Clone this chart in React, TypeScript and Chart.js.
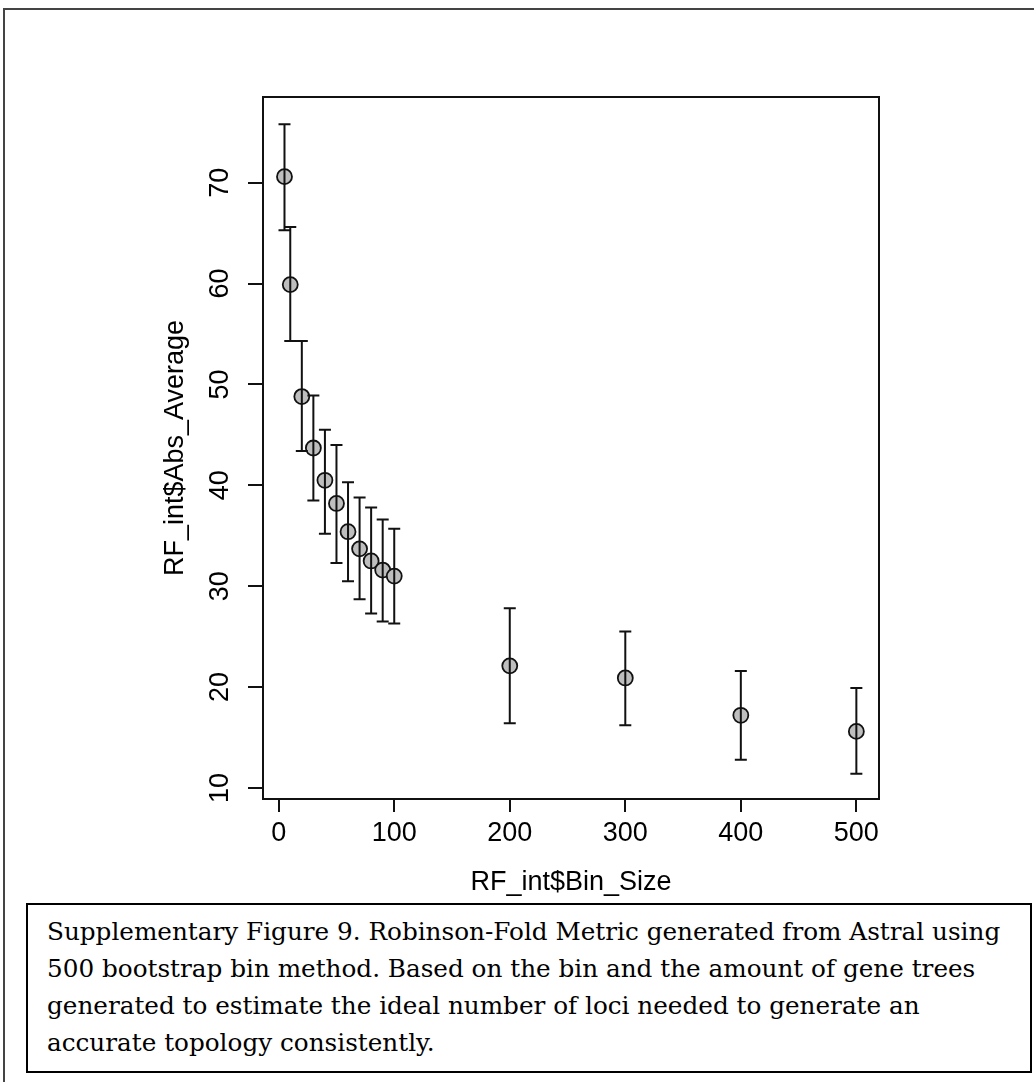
import React, { useEffect, useRef } from "react";
import { Chart, registerables } from "chart.js";

Chart.register(...registerables);

// ---- data ----
const binSize = [5, 10, 20, 30, 40, 50, 60, 70, 80, 90, 100, 200, 300, 400, 500];
const absAverage = [70.6, 59.9, 48.8, 43.7, 40.5, 38.2, 35.4, 33.7, 32.5, 31.6, 31.0, 22.1, 20.9, 17.2, 15.6];
const upperBound = [75.8, 65.6, 54.3, 48.9, 45.5, 44.0, 40.3, 38.8, 37.8, 36.6, 35.7, 27.8, 25.5, 21.6, 19.9];
const lowerBound = [65.3, 54.3, 43.4, 38.5, 35.2, 32.3, 30.5, 28.7, 27.3, 26.5, 26.3, 16.4, 16.2, 12.8, 11.4];
const xTickValues = [0, 100, 200, 300, 400, 500];
const yTickValues = [10, 20, 30, 40, 50, 60, 70];
const xTitle = "RF_int$Bin_Size";
const yTitle = "RF_int$Abs_Average";
const captionLines = [
  "Supplementary Figure 9. Robinson-Fold Metric generated from Astral using",
  "500 bootstrap bin method. Based on the bin and the amount of gene trees",
  "generated to estimate the ideal number of loci needed to generate an",
  "accurate topology consistently.",
];

const INK = "#111111";
const SANS = "'Liberation Sans', Arial, Helvetica, sans-serif";

const errorBarPlugin = {
  id: "errorBars",
  afterDatasetsDraw(chart: any) {
    const { ctx, scales } = chart;
    const x = scales.x;
    const y = scales.y;
    ctx.save();
    ctx.strokeStyle = INK;
    ctx.lineWidth = 2;
    binSize.forEach((b, i) => {
      const px = x.getPixelForValue(b);
      const top = y.getPixelForValue(upperBound[i]);
      const bot = y.getPixelForValue(lowerBound[i]);
      ctx.beginPath();
      ctx.moveTo(px, top);
      ctx.lineTo(px, bot);
      ctx.moveTo(px - 6, top);
      ctx.lineTo(px + 6, top);
      ctx.moveTo(px - 6, bot);
      ctx.lineTo(px + 6, bot);
      ctx.stroke();
    });
    ctx.restore();
  },
};

const boxPlugin = {
  id: "plotBox",
  afterDraw(chart: any) {
    const { ctx, chartArea: a } = chart;
    ctx.save();
    ctx.strokeStyle = INK;
    ctx.lineWidth = 2;
    ctx.strokeRect(a.left, a.top, a.right - a.left, a.bottom - a.top);
    ctx.restore();
  },
};

export default function App() {
  const canvasRef = useRef<HTMLCanvasElement | null>(null);

  useEffect(() => {
    if (!canvasRef.current) return;
    const chart = new Chart(canvasRef.current, {
      type: "scatter",
      data: {
        datasets: [
          {
            label: yTitle,
            data: binSize.map((b, i) => ({ x: b, y: absAverage[i] })),
            pointRadius: 7.5,
            pointHoverRadius: 7.5,
            pointBackgroundColor: "#bebebe",
            pointBorderColor: INK,
            pointBorderWidth: 1.8,
          },
        ],
      },
      options: {
        animation: false,
        responsive: false,
        devicePixelRatio: 1,
        layout: { padding: { left: 150, top: 97, right: 155, bottom: 1 } },
        plugins: {
          legend: { display: false },
          tooltip: { enabled: false },
          title: { display: false },
        },
        scales: {
          x: {
            type: "linear",
            min: -13.6,
            max: 519.6,
            afterBuildTicks: (s: any) => {
              s.ticks = xTickValues.map((v) => ({ value: v }));
            },
            afterFit: (s: any) => {
              s.height = 100;
            },
            grid: {
              display: true,
              drawOnChartArea: false,
              drawTicks: true,
              tickLength: 13,
              color: INK,
              lineWidth: 2,
            },
            border: { display: true, color: INK, width: 2 },
            ticks: {
              color: "#000",
              font: { family: SANS, size: 27 },
              padding: 5,
              maxRotation: 0,
              minRotation: 0,
              autoSkip: false,
            },
            title: {
              display: true,
              text: xTitle,
              color: "#000",
              font: { family: SANS, size: 27 },
              padding: { top: 0, bottom: 0 },
            },
          },
          y: {
            type: "linear",
            min: 8.9,
            max: 78.5,
            afterBuildTicks: (s: any) => {
              s.ticks = yTickValues.map((v) => ({ value: v }));
            },
            afterFit: (s: any) => {
              s.width = 113;
            },
            grid: {
              display: true,
              drawOnChartArea: false,
              drawTicks: true,
              tickLength: 15,
              color: INK,
              lineWidth: 2,
            },
            border: { display: true, color: INK, width: 2 },
            ticks: {
              color: "#000",
              font: { family: SANS, size: 27 },
              padding: 12,
              minRotation: 90,
              maxRotation: 90,
              crossAlign: "center",
              autoSkip: false,
            },
            title: {
              display: true,
              text: yTitle,
              color: "#000",
              font: { family: SANS, size: 27 },
              padding: { top: 9, bottom: 0 },
            },
          },
        },
      },
      plugins: [errorBarPlugin, boxPlugin],
    } as any);
    return () => chart.destroy();
  }, []);

  return (
    <div
      style={{
        position: "absolute",
        left: 0,
        top: 0,
        width: 1034,
        height: 1082,
        overflow: "hidden",
        background: "#ffffff",
      }}
    >
      <div
        style={{
          position: "absolute",
          left: 3,
          top: 8,
          width: 1200,
          height: 1200,
          borderLeft: "2px solid #444",
          borderTop: "2px solid #444",
          boxSizing: "border-box",
        }}
      />
      <canvas
        ref={canvasRef}
        width={1034}
        height={900}
        style={{ position: "absolute", left: 0, top: 0, width: 1034, height: 900 }}
      />
      <div
        style={{
          position: "absolute",
          left: 26,
          top: 903,
          width: 1006,
          height: 170,
          boxSizing: "border-box",
          border: "2px solid #000",
          padding: "8px 0 0 19px",
          fontFamily: "'DejaVu Serif', serif",
          fontSize: 24.7,
          lineHeight: "37px",
          color: "#000",
          whiteSpace: "pre",
          background: "#fff",
        }}
      >
        {captionLines.map((line, i) => (
          <div key={i}>{line}</div>
        ))}
      </div>
    </div>
  );
}
